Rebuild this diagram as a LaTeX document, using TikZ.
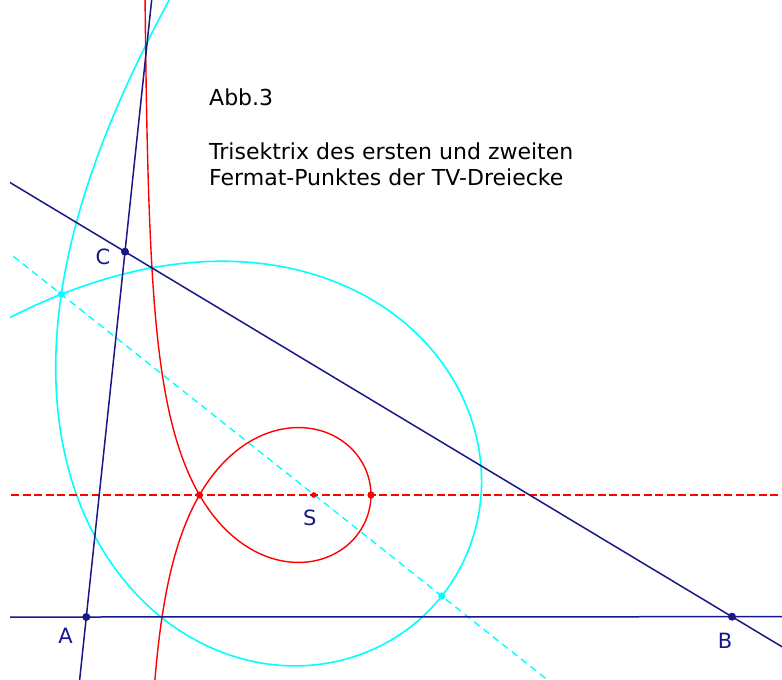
\documentclass[tikz,border=0pt]{standalone}
\usepackage{fontspec}
\setmainfont{DejaVu Sans}
\usetikzlibrary{calc}
\definecolor{navy}{RGB}{24,24,136}
\definecolor{myred}{RGB}{255,0,0}
\definecolor{mycyan}{RGB}{0,255,255}
\begin{document}
\begin{tikzpicture}[x=1pt,y=-1pt,line join=round,
  navyline/.style={draw=navy,line width=1.5pt},
  redcurve/.style={draw=myred,line width=1.4pt},
  cyancurve/.style={draw=mycyan,line width=1.6pt},
  reddash/.style={draw=myred,line width=1.4pt,dash pattern=on 8pt off 3.5pt},
  cyandash/.style={draw=mycyan,line width=1.4pt,dash pattern=on 7pt off 5pt},
  lbl/.style={text=navy,inner sep=0pt,font=\fontsize{21}{25}\selectfont},
  titletext/.style={text=black,inner sep=0pt,anchor=base west,font=\fontsize{22}{26}\selectfont}]
\useasboundingbox[fill=white] (0,0) rectangle (782,680);
% points
\coordinate (A) at (86.3,617);
\coordinate (B) at (732,616.7);
\coordinate (C) at (125,251.7);
\coordinate (Nr) at (199.5,495);
\coordinate (Er) at (371,495);
\coordinate (S) at (313.8,495);
\coordinate (Nc) at (61.3,294.3);
\coordinate (Ec) at (441.7,596);
\pgfmathsetmacro\redA{114.3}
\pgfmathsetmacro\cyanA{323.8}
\begin{scope}
\clip (10,0) rectangle (782,680);
% cyan trisectrix
\begin{scope}[shift={(Nc)},rotate=-38.4]
\draw[cyancurve] plot[domain=-81:81,samples=601,variable=\t]
  ({\cyanA*(2*cos(\t)*cos(\t)-0.5)},{\cyanA*(sin(2*\t)-tan(\t)/2)});
\end{scope}
\draw[cyandash] ($(Nc)!-0.2!(Ec)$) -- ($(Nc)!1.35!(Ec)$);
% red trisectrix
\begin{scope}[shift={(Nr)}]
\draw[redcurve] plot[domain=-86:86,samples=601,variable=\t]
  ({\redA*(2*cos(\t)*cos(\t)-0.5)},{\redA*(sin(2*\t)-tan(\t)/2)});
\end{scope}
\draw[reddash] ($(Nr)!-1.3!(Er)$) -- ($(Nr)!4!(Er)$);
% triangle lines
\draw[navyline] ($(A)!-0.2!(B)$) -- ($(A)!1.2!(B)$);
\draw[navyline] ($(A)!-0.2!(C)$) -- ($(A)!1.75!(C)$);
\draw[navyline] ($(B)!-0.1!(C)$) -- ($(B)!1.25!(C)$);
\end{scope}
% dots
\fill[mycyan] (Nc) circle (3.6pt) (Ec) circle (3.6pt);
\fill[myred] (Nr) circle (3.6pt) (Er) circle (3.6pt);
\fill[myred] (S) circle (2.8pt);
\fill[navy] (A) circle (4pt) (B) circle (4pt) (C) circle (4pt);
% labels
\node[lbl] (lA) at (65.5,636) {A};
\node[lbl] (lB) at (725,641.3) {B};
\node[lbl] (lC) at (103,256.7) {C};
\node[lbl] (lS) at (309.7,517.7) {S};
\node[titletext] (t1) at (209,105) {Abb.3};
\node[titletext] (t2) at (209,159) {Trisektrix des ersten und zweiten};
\node[titletext] (t3) at (209,185) {Fermat-Punktes der TV-Dreiecke};
\end{tikzpicture}
\end{document}
